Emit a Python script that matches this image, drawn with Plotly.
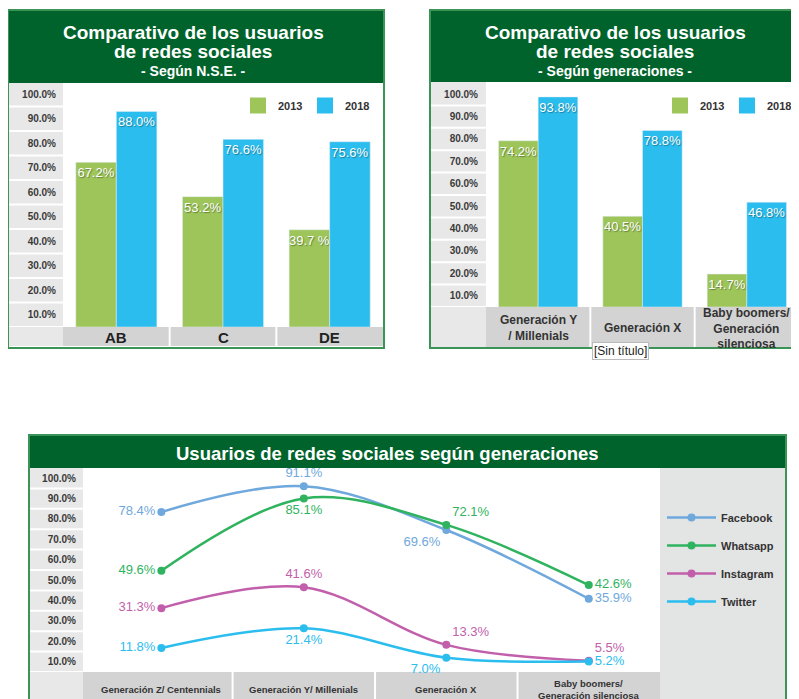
import plotly.graph_objects as go

W, H = 799, 699
OFF = 8  # the page places the figure 8 px from the window's top-left corner


def px(x):
    return (x - OFF) / W


def py(y):
    return 1 - (y - OFF) / H


FONT = "Liberation Sans, Arial, Helvetica, sans-serif"
HEADER = "#00632b"
BORDER = "#3b9455"
GREEN = "#9dc55a"
BLUE = "#2abdee"
COL_GRAY = "#e8e8e8"
BAND_GRAY = "#d3d3d3"
PANEL_GRAY = "#e3e4e4"

# ---------------- data ----------------
years = ["2013", "2018"]

nse_categories = ["AB", "C", "DE"]
nse_2013 = [67.2, 53.2, 39.7]
nse_2018 = [88.0, 76.6, 75.6]
nse_2013_text = ["67.2%", "53.2%", "39.7 %"]
nse_2018_text = ["88.0%", "76.6%", "75.6%"]

gen_categories = ["Generación Y<br>/ Millenials", "Generación X",
                  "Baby boomers/<br>Generación<br>silenciosa"]
gen_2013 = [74.2, 40.5, 14.7]
gen_2018 = [93.8, 78.8, 46.8]
gen_2013_text = ["74.2%", "40.5%", "14.7%"]
gen_2018_text = ["93.8%", "78.8%", "46.8%"]

line_categories = ["Generación Z/ Centennials", "Generación Y/ Millenials",
                   "Generación X", "Baby boomers/<br>Generación silenciosa"]
facebook = [78.4, 91.1, 69.6, 35.9]
whatsapp = [49.6, 85.1, 72.1, 42.6]
instagram = [31.3, 41.6, 13.3, 5.5]
twitter = [11.8, 21.4, 7.0, 5.2]
facebook_text = ["78.4%", "91.1%", "69.6%", "35.9%"]
whatsapp_text = ["49.6%", "85.1%", "72.1%", "42.6%"]
instagram_text = ["31.3%", "41.6%", "13.3%", "5.5%"]
twitter_text = ["11.8%", "21.4%", "7.0%", "5.2%"]

y_tick_vals = [10, 20, 30, 40, 50, 60, 70, 80, 90, 100]
y_tick_text = ["10.0%", "20.0%", "30.0%", "40.0%", "50.0%",
               "60.0%", "70.0%", "80.0%", "90.0%", "100.0%"]

fig = go.Figure()

bar_text_font = dict(color="white", size=13, family=FONT,
                     shadow="1px 1px 1px rgba(0,0,0,0.35)")


def bar_pair(cats, v13, t13, v18, t18, xa, ya, leg):
    for name, vals, txt, col in [(years[0], v13, t13, GREEN), (years[1], v18, t18, BLUE)]:
        fig.add_trace(go.Bar(x=cats, y=vals, name=name, marker_color=col, text=txt,
                             textposition="inside", insidetextanchor="end", textangle=0,
                             textfont=bar_text_font, xaxis=xa, yaxis=ya, showlegend=False,
                             hoverinfo="skip"))
    # legend entries (larger square swatches than the default bar icon)
    for name, col in [(years[0], GREEN), (years[1], BLUE)]:
        fig.add_trace(go.Scatter(x=[None], y=[None], mode="markers", name=name,
                                 marker=dict(symbol="square", size=18, color=col),
                                 xaxis=xa, yaxis=ya, legend=leg, hoverinfo="skip"))


# ---------------- chart 1 (N.S.E.) ----------------
bar_pair(nse_categories, nse_2013, nse_2013_text, nse_2018, nse_2018_text, "x", "y", "legend")
# ---------------- chart 2 (generaciones, barras) ----------------
bar_pair(gen_categories, gen_2013, gen_2013_text, gen_2018, gen_2018_text, "x2", "y2", "legend2")

# ---------------- chart 3 (líneas) ----------------
series = [
    ("Facebook", facebook, facebook_text, "#6fa8dc",
     ["middle left", "top center", "bottom left", "middle right"]),
    ("Whatsapp", whatsapp, whatsapp_text, "#2fb35e",
     ["middle left", "bottom center", "top right", "middle right"]),
    ("Instagram", instagram, instagram_text, "#c25fab",
     ["middle left", "top center", "top right", "top right"]),
    ("Twitter", twitter, twitter_text, "#2bbdee",
     ["middle left", "bottom center", "bottom left", "middle right"]),
]
for name, vals, txt, col, pos in series:
    fig.add_trace(go.Scatter(
        x=line_categories, y=vals, name=name, mode="lines+markers+text",
        line=dict(color=col, width=2.5, shape="spline", smoothing=1.0),
        marker=dict(color=col, size=8), text=txt, textposition=pos,
        textfont=dict(color=col, size=13, family=FONT),
        xaxis="x3", yaxis="y3", legend="legend3", legendgroup=name,
        hoverinfo="skip", cliponaxis=False))

# ---------------- axes ----------------
ytick_common = dict(range=[0, 100], tickvals=y_tick_vals, ticktext=y_tick_text,
                    showgrid=False, zeroline=False, showline=False, ticks="",
                    automargin=False,
                    tickfont=dict(size=10, color="#3a3a3a", family=FONT, weight="bold"),
                    fixedrange=True)
xcommon = dict(showgrid=False, zeroline=False, showline=False, ticks="",
               showticklabels=False, fixedrange=True, automargin=False)

fig.update_layout(
    xaxis=dict(domain=[px(63), px(383)], anchor="y", **xcommon),
    yaxis=dict(domain=[py(327), py(82)], anchor="x", ticklabelshift=12,
               ticklabelstandoff=6, **ytick_common),
    xaxis2=dict(domain=[px(486), px(799)], anchor="y2", **xcommon),
    yaxis2=dict(domain=[py(307), py(83)], anchor="x2", ticklabelshift=11,
                ticklabelstandoff=7, **ytick_common),
    xaxis3=dict(domain=[px(83), px(660)], anchor="y3", range=[-0.55, 3.5], **xcommon),
    yaxis3=dict(domain=[py(672), py(468)], anchor="x3", ticklabelshift=10,
                ticklabelstandoff=6, **ytick_common),
)

# ---------------- decorative panels ----------------
shapes = []


def rect(x0, y0, x1, y1, fill, layer="below", line=None):
    d = dict(type="rect", xref="paper", yref="paper", x0=px(x0), x1=px(x1),
             y0=py(y1), y1=py(y0), fillcolor=fill, layer=layer,
             line=dict(width=0) if line is None else line)
    shapes.append(d)


def panel(x0, y0, x1, y1, head_bottom, col_right, plot_bottom, band_bottom,
          band_right, yref, xref, n_cat, sep_vals):
    rect(x0, y0, x1, head_bottom, HEADER)
    rect(x0, head_bottom, col_right, band_bottom, COL_GRAY)
    rect(col_right, plot_bottom, band_right, band_bottom, BAND_GRAY)
    for v in sep_vals:
        shapes.append(dict(type="line", xref="paper", yref=yref, x0=px(x0), x1=px(col_right),
                           y0=v, y1=v, line=dict(color="white", width=2), layer="below"))
    for i in range(n_cat - 1):
        shapes.append(dict(type="line", xref=xref, yref="paper", x0=i + 0.5, x1=i + 0.5,
                           y0=py(band_bottom), y1=py(plot_bottom),
                           line=dict(color="white", width=2), layer="below"))
    rect(x0, y0, x1, y1, "rgba(0,0,0,0)", layer="above",
         line=dict(color=BORDER, width=2))


sep = [0, 10, 20, 30, 40, 50, 60, 70, 80, 90]
panel(8, 10, 384, 348, 83, 63, 327, 346, 383, "y", "x", 3, sep)
panel(430, 10, 805, 348, 82, 486, 307, 347, 805, "y2", "x2", 3, sep)
panel(29, 435, 786, 710, 468, 83, 672, 710, 660, "y3", "x3", 4, sep)
rect(660, 468, 786, 710, PANEL_GRAY)

# ---------------- text ----------------
ann = []


def text(x, y, s, size, color="white", bold=True, xanchor="center", **kw):
    ann.append(dict(xref="paper", yref="paper", x=px(x), y=py(y), text=s, showarrow=False,
                    xanchor=xanchor, yanchor="middle",
                    font=dict(size=size, color=color, family=FONT,
                              weight="bold" if bold else "normal"), **kw))


text(193, 33, "Comparativo de los usuarios", 19)
text(193, 51, "de redes sociales", 19)
text(193, 71, "- Según N.S.E. -", 14)
text(615, 33, "Comparativo de los usuarios", 19)
text(615, 51, "de redes sociales", 19)
text(615, 71, "- Según generaciones -", 14)
text(387, 453, "Usuarios de redes sociales según generaciones", 18.5)

for c in nse_categories:
    ann.append(dict(xref="x", yref="paper", x=c, y=py(337), text=c, showarrow=False,
                    yanchor="middle", font=dict(size=15, color="#222", family=FONT,
                                                weight="bold")))
for c in gen_categories:
    ann.append(dict(xref="x2", yref="paper", x=c, y=py(328), text=c, showarrow=False,
                    yanchor="middle", font=dict(size=12, color="#333", family=FONT,
                                                weight="bold")))
for c in line_categories:
    ann.append(dict(xref="x3", yref="paper", x=c, y=py(689), text=c, showarrow=False,
                    yanchor="middle", font=dict(size=9.5, color="#333", family=FONT,
                                                weight="bold")))

ann.append(dict(xref="paper", yref="paper", x=px(592), y=py(342), text="[Sin título]",
                showarrow=False, xanchor="left", yanchor="top", bgcolor="white",
                bordercolor="#bbbbbb", borderwidth=1, borderpad=1,
                font=dict(size=12, color="#222", family=FONT)))

legend_font = dict(size=11, color="#333", family=FONT, weight="bold")
fig.update_layout(
    width=W, height=H, margin=dict(l=0, r=0, t=0, b=0, pad=0, autoexpand=False),
    paper_bgcolor="white", plot_bgcolor="white",
    barmode="group", bargap=0.24, bargroupgap=0,
    uniformtext=dict(minsize=13, mode="show"),
    shapes=shapes, annotations=ann,
    legend=dict(orientation="h", x=px(238), y=py(91), xanchor="left", yanchor="top",
                font=legend_font, bgcolor="rgba(0,0,0,0)", entrywidth=22,
                entrywidthmode="pixels", traceorder="normal"),
    legend2=dict(orientation="h", x=px(660), y=py(91), xanchor="left", yanchor="top",
                 font=legend_font, bgcolor="rgba(0,0,0,0)", entrywidth=22,
                 entrywidthmode="pixels", traceorder="normal"),
    legend3=dict(orientation="v", x=px(662), y=py(503), xanchor="left", yanchor="top",
                 font=legend_font, bgcolor="rgba(0,0,0,0)", itemwidth=49,
                 tracegroupgap=9, traceorder="grouped"),
    hovermode=False,
)

fig.write_html("out.html")
